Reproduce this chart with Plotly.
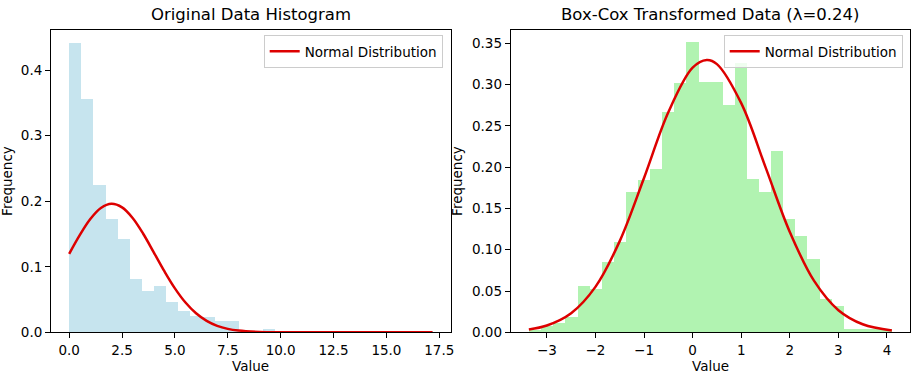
import numpy as np
import plotly.graph_objects as go

# ---------------- data ----------------
left_range = [0.0, 17.18]
left_heights = [0.442, 0.357, 0.226, 0.174, 0.1435, 0.0824, 0.0635, 0.0707, 0.0467, 0.034,
                0.0264, 0.0238, 0.0177, 0.0177, 0.0035, 0.0035, 0.0052, 0.0017, 0, 0,
                0, 0, 0, 0, 0, 0, 0, 0, 0, 0.0017]
left_curve_x = [0, 0.5, 1, 1.5, 2, 2.5, 3, 3.5, 4, 4.5, 5, 5.5, 6, 6.5, 7, 7.5, 8, 9, 10, 12, 14, 17.18]
left_curve_y = [0.1197, 0.1483, 0.1729, 0.1897, 0.196, 0.1906, 0.1745, 0.1504, 0.1221, 0.0933,
                0.0671, 0.0454, 0.0290, 0.0174, 0.0098, 0.0052, 0.0026, 0.00055, 0.0001, 0, 0, 0]

right_range = [-3.37, 4.10]
right_heights = [0.004, 0.008, 0.012, 0.0195, 0.0565, 0.0535, 0.0852, 0.11, 0.1703, 0.1853,
                 0.1987, 0.2677, 0.303, 0.352, 0.3042, 0.3042, 0.2754, 0.3273, 0.1865, 0.1711,
                 0.2198, 0.1375, 0.1174, 0.0892, 0.041, 0.033, 0.0049, 0.0049, 0.0049, 0.0049]
right_curve_x = [-3.37, -3, -2.5, -2, -1.5, -1, -0.5, 0, 0.29, 0.5, 1, 1.5, 2, 2.5, 3, 3.5, 4.10]
right_curve_y = [0.0034, 0.0082, 0.0231, 0.0550, 0.1104, 0.1868, 0.2664, 0.3204, 0.3297, 0.3248,
                 0.2775, 0.2000, 0.1215, 0.0622, 0.0268, 0.0098, 0.0023]

left_xticks = [0, 2.5, 5, 7.5, 10, 12.5, 15, 17.5]
left_xticklabels = ["0.0", "2.5", "5.0", "7.5", "10.0", "12.5", "15.0", "17.5"]
left_yticks = [0.0, 0.1, 0.2, 0.3, 0.4]
right_xticks = [-3, -2, -1, 0, 1, 2, 3, 4]
right_xticklabels = ["\u22123", "\u22122", "\u22121", "0", "1", "2", "3", "4"]
right_yticks = [0.0, 0.05, 0.10, 0.15, 0.20, 0.25, 0.30, 0.35]

titles = ["Original Data Histogram", "Box-Cox Transformed Data (\u03bb=0.24)"]
curve_name = "Normal Distribution"

# ---------------- figure ----------------
W, H = 921, 376
FONT = "DejaVu Sans"

def bins(rng, n):
    edges = np.linspace(rng[0], rng[1], n + 1)
    return (edges[:-1] + edges[1:]) / 2, edges[1] - edges[0]

lc, lw = bins(left_range, len(left_heights))
rc, rw = bins(right_range, len(right_heights))

RED = "#dd0000"
fig = go.Figure()
fig.add_trace(go.Bar(x=lc, y=left_heights, width=lw, marker=dict(color="#c6e4ee", line=dict(width=0)),
                     showlegend=False, xaxis="x", yaxis="y"))
fig.add_trace(go.Scatter(x=left_curve_x, y=left_curve_y, mode="lines", name=curve_name,
                         line=dict(color=RED, width=2.5, shape="spline"), xaxis="x", yaxis="y",
                         legend="legend"))
fig.add_trace(go.Bar(x=rc, y=right_heights, width=rw, marker=dict(color="#b1f3b1", line=dict(width=0)),
                     showlegend=False, xaxis="x2", yaxis="y2"))
fig.add_trace(go.Scatter(x=right_curve_x, y=right_curve_y, mode="lines", name=curve_name,
                         line=dict(color=RED, width=2.5, shape="spline"), xaxis="x2", yaxis="y2",
                         legend="legend2"))

px = lambda v: v / W
py = lambda v: 1 - v / H

axis_common = dict(showline=True, linecolor="black", linewidth=1, mirror=True, showgrid=False,
                   zeroline=False, ticks="outside", ticklen=5, tickwidth=1, tickcolor="black",
                   tickfont=dict(family=FONT, size=13.5, color="black"))

ytop, ybot = 29.5, 332.3
fig.update_layout(
    width=W, height=H, autosize=False, margin=dict(l=0, r=0, t=0, b=0, autoexpand=False),
    plot_bgcolor="white", paper_bgcolor="white", bargap=0, barmode="overlay",
    font=dict(family=FONT, color="black"),
    xaxis=dict(domain=[px(51), px(450.7)], range=[-0.859, 18.04], tickvals=left_xticks,
               ticktext=left_xticklabels, anchor="y", **axis_common),
    yaxis=dict(domain=[py(ybot), py(ytop)], range=[0, 0.4621], tickvals=left_yticks,
               tickformat=".1f", anchor="x", **axis_common),
    xaxis2=dict(domain=[px(510.7), px(910)], range=[-3.7435, 4.4735], tickvals=right_xticks,
                ticktext=right_xticklabels, anchor="y2", **axis_common),
    yaxis2=dict(domain=[py(ybot), py(ytop)], range=[0, 0.3667], tickvals=right_yticks,
                tickformat=".2f", anchor="x2", **axis_common),
    legend=dict(x=px(442.7), y=py(35), xanchor="right", yanchor="top",
                bgcolor="rgba(255,255,255,0.8)", bordercolor="#cccccc", borderwidth=1,
                font=dict(family=FONT, size=13.5, color="black"), itemwidth=30),
    legend2=dict(x=px(902.7), y=py(35), xanchor="right", yanchor="top",
                 bgcolor="rgba(255,255,255,0.8)", bordercolor="#cccccc", borderwidth=1,
                 font=dict(family=FONT, size=13.5, color="black"), itemwidth=30),
)

ann = []
def add_text(text, x, y, size, angle=0):
    ann.append(dict(text=text, x=px(x), y=py(y), xref="paper", yref="paper",
                    xanchor="center", yanchor="middle", showarrow=False, textangle=angle,
                    font=dict(family=FONT, size=size, color="black")))

add_text(titles[0], 250.8, 15, 16.5)
add_text(titles[1], 710.3, 15, 16.5)
for xc in (250.8, 710.3):
    add_text("Value", xc, 366, 13.5)
for xc in (7, 457):
    add_text("Frequency", xc, (ytop + ybot) / 2, 13.5, -90)
fig.update_layout(annotations=ann)

fig.write_html("out.html", config={"responsive": False, "displayModeBar": False},
               post_script="document.body.style.margin='0';document.body.style.overflow='hidden';")
